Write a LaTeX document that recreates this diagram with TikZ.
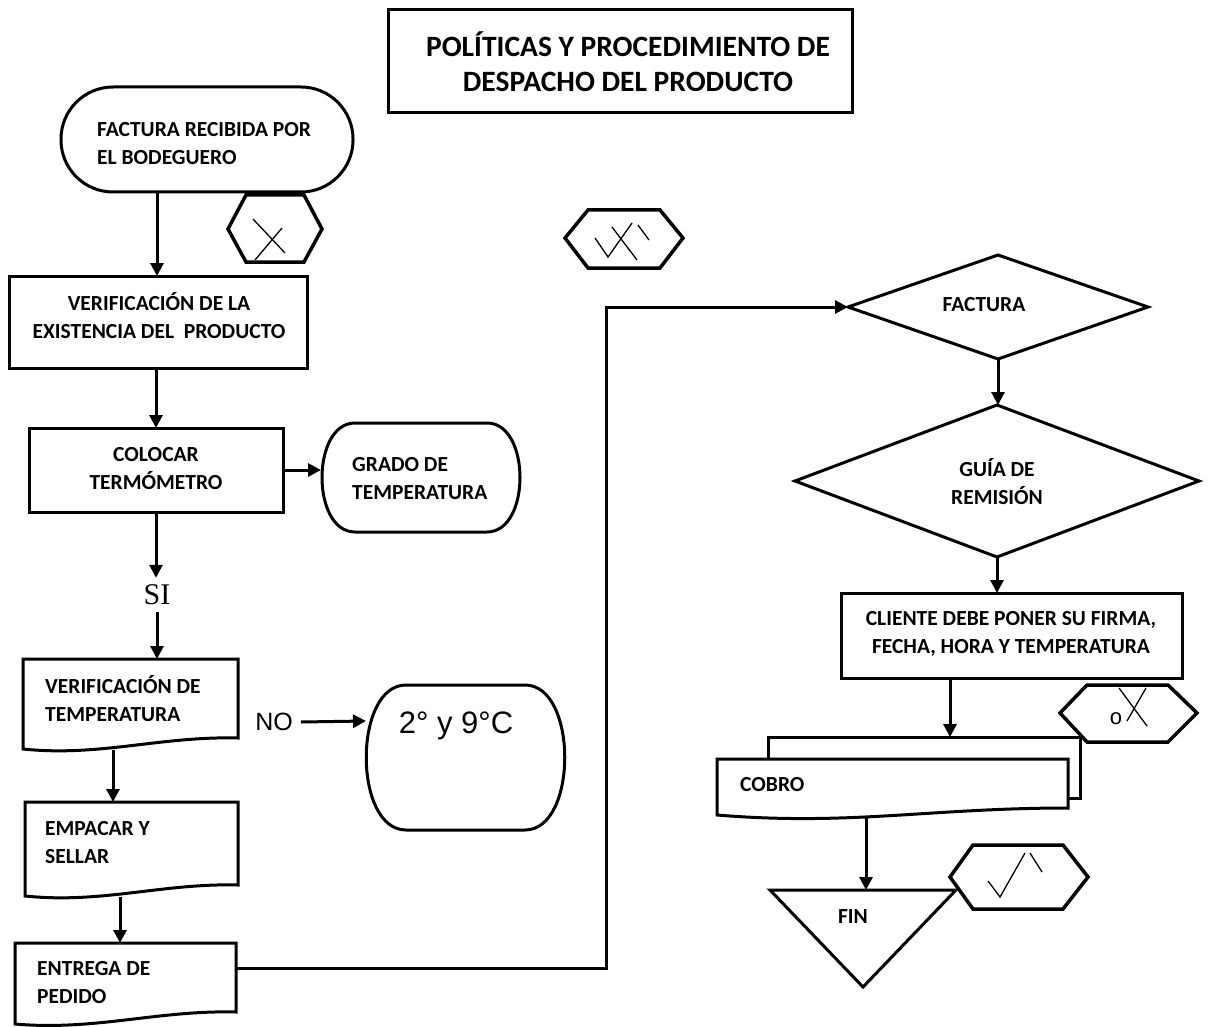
\documentclass[tikz,border=0pt]{standalone}
\usepackage{fontspec}
\setmainfont{Carlito}[BoldFont={Carlito Bold}]
\newfontfamily\serifface{Liberation Serif}
\newfontfamily\sansface{Liberation Sans}
\usetikzlibrary{arrows.meta}

\begin{document}
\begin{tikzpicture}[x=1pt,y=-1pt,
  outl/.style={line width=3pt, line join=miter},
  conn/.style={line width=3pt, -{Triangle[length=13pt,width=13pt]}},
  hexa/.style={line width=3.5pt, line join=miter},
  symline/.style={line width=1.3pt},
  area/.style 2 args={minimum width=#1, minimum height=#2, inner sep=0pt, outer sep=0pt},
  lbl/.style={font=\fontsize{21.5}{28}\selectfont\bfseries, inner sep=0pt, align=left, anchor=west},
  clbl/.style={font=\fontsize{21.5}{28}\selectfont\bfseries, inner sep=0pt, align=center},
  tlbl/.style={font=\fontsize{29.5}{35}\selectfont\bfseries, inner sep=0pt, align=center}
]
\useasboundingbox (0,0) rectangle (1210,1027);

% ---------- title ----------
\node[draw, outl, area={464pt}{103pt}] (title) at (620,61.5) {};
\node[tlbl] (titletext) at (628,62) {POLÍTICAS Y PROCEDIMIENTO DE\\DESPACHO DEL PRODUCTO};

% ---------- left column ----------
\node[draw, outl, rounded corners=52pt, area={292pt}{105pt}] (inicio) at (207,139.5) {};
\node[lbl] (iniciotext) at (97,144) {FACTURA RECIBIDA POR\\EL BODEGUERO};

\node[draw, outl, area={298pt}{92pt}] (exist) at (158,322) {};
\node[clbl] (existtext) at (159,316) {VERIFICACIÓN DE LA\\EXISTENCIA DEL\ \ PRODUCTO};

\node[draw, outl, area={254pt}{84pt}] (colocar) at (156,470) {};
\node[clbl] (colocartext) at (156,468.5) {COLOCAR\\TERMÓMETRO};

% stored-data style shape with bulging sides
\node[area={200pt}{109pt}] (grado) at (421,477.5) {};
\draw[outl] (355,423) -- (487,423)
  .. controls (531,423) and (531,532) .. (487,532) -- (355,532)
  .. controls (311,532) and (311,423) .. cycle;
\node[lbl] (gradotext) at (352,478.5) {GRADO DE\\TEMPERATURA};

\node[font=\fontsize{30}{30}\selectfont\serifface, inner sep=0pt, minimum height=34pt] (si) at (157,595) {SI};

% document shapes (wavy bottom edge)
\node[area={215pt}{91pt}] (vtemp) at (130.5,704.5) {};
\draw[outl] (238,738) -- (238,659) -- (23,659) -- (23,749)
  .. controls (100,757) and (160,736) .. cycle;
\node[lbl] (vtemptext) at (45,699) {VERIFICACIÓN DE\\TEMPERATURA};

\node[area={213pt}{95pt}] (emp) at (131.5,849.5) {};
\draw[outl] (238,885) -- (238,802) -- (25,802) -- (25,896)
  .. controls (102,904) and (162,883) .. cycle;
\node[lbl] (emptext) at (45,843) {EMPACAR Y\\SELLAR};

\node[area={221pt}{81pt}] (ent) at (125.5,983.5) {};
\draw[outl] (236,1012) -- (236,943) -- (15,943) -- (15,1024)
  .. controls (95,1031) and (158,1010) .. cycle;
\node[lbl] (enttext) at (37,983) {ENTREGA DE\\PEDIDO};

% NO branch
\node[font=\fontsize{25}{25}\selectfont\sansface, inner sep=0pt] (no) at (274,722) {NO};
\node[area={199pt}{145pt}] (rango) at (465.5,757.5) {};
\draw[outl] (406,685) -- (525,685)
  .. controls (578,685) and (578,830) .. (525,830) -- (406,830)
  .. controls (353,830) and (353,685) .. cycle;
\node[font=\fontsize{31}{31}\selectfont\sansface, inner sep=0pt] (rangotext) at (456,726) {2° y 9°C};

% ---------- right column ----------
\node[area={300pt}{104pt}] (factura) at (998,307) {};
\draw[outl] (factura.west) -- (factura.north) -- (factura.east) -- (factura.south) -- cycle;
\node[clbl] (facturatext) at (984,305) {FACTURA};

\node[area={404pt}{152pt}] (guia) at (997,481) {};
\draw[outl] (guia.west) -- (guia.north) -- (guia.east) -- (guia.south) -- cycle;
\node[clbl] (guiatext) at (997,482) {GUÍA DE\\REMISIÓN};

\node[draw, outl, area={341pt}{85pt}] (cliente) at (1011.5,635.5) {};
\node[clbl] (clientetext) at (1011,633.5) {CLIENTE DEBE PONER SU FIRMA,\\FECHA, HORA Y TEMPERATURA};

% multi-document
\node[area={312pt}{61pt}] (cobroback) at (924,767.5) {};
\draw[outl, fill=white] (cobroback.north west) rectangle (cobroback.south east);
\node[area={351pt}{58pt}] (cobro) at (892.5,788) {};
\draw[outl, fill=white] (1068,808) -- (1068,759) -- (717,759) -- (717,815)
  .. controls (850,826) and (930,808) .. cycle;
\node[lbl] (cobrotext) at (740,785) {COBRO};

\node[area={186pt}{97pt}] (fin) at (863,938.5) {};
\draw[outl] (fin.north west) -- (fin.north east) -- (fin.south) -- cycle;
\node[clbl] (fintext) at (853,917) {FIN};

% ---------- connectors ----------
\draw[conn] (inicio.south -| 157,0) -- (157,276);
\draw[conn] (exist.south -| colocar.north) -- (colocar.north);
\draw[conn] (colocar.east) -- (colocar.east -| grado.west);
\draw[conn] (colocar.south) -- (colocar.south |- si.north);
\draw[conn] (si.south) -- (si.south |- vtemp.north);
\draw[conn] (no.east) ++(8,0) -- (rango.west |- 0,721);
\draw[conn] ([xshift=-17.5pt]vtemp.south) -- ([xshift=-17.5pt]vtemp.south |- emp.north);
\draw[conn] ([xshift=-11.5pt]emp.south) -- ([xshift=-11.5pt]emp.south |- ent.north);
\coordinate (bend) at (606,307);
\draw[conn] ([yshift=15.5pt]ent.east) -| (bend) -- (factura.west);
\draw[conn] (factura.south) -- (factura.south |- guia.north);
\draw[conn] (guia.south) -- (guia.south |- cliente.north);
\draw[conn] ([xshift=-61.5pt]cliente.south) -- ([xshift=-61.5pt]cliente.south |- cobroback.north);
\draw[conn] ([xshift=-26.5pt]cobro.south) -- ([xshift=-26.5pt]cobro.south |- fin.north);

% ---------- annotation hexagons ----------
\draw[hexa] (228,229) -- (246,195) -- (304,195) -- (322,229) -- (304,262) -- (246,262) -- cycle;
\draw[symline] (253,219) -- (285,253);
\draw[symline] (255,260) -- (282,228);

\draw[hexa] (565,238) -- (588,210) -- (660,210) -- (683,238) -- (660,268) -- (588,268) -- cycle;
\draw[symline] (595,238) -- (608,257) -- (632,223);
\draw[symline] (612,227) -- (637,260);
\draw[symline] (638,225) -- (649,240);

\draw[hexa] (1060,713) -- (1087,685) -- (1168,685) -- (1197,713) -- (1168,742) -- (1087,742) -- cycle;
\node[font=\fontsize{22}{22}\selectfont\sansface, inner sep=0pt] (omark) at (1116,719) {o};
\draw[symline] (1119,688) -- (1147,726);
\draw[symline] (1127,721) -- (1146,688);

\draw[hexa] (950,877) -- (973,845) -- (1063,845) -- (1088,877) -- (1063,909) -- (973,909) -- cycle;
\draw[symline] (988,881) -- (1000,897) -- (1025,853);
\draw[symline] (1030,853) -- (1042,872);
\end{tikzpicture}
\end{document}
